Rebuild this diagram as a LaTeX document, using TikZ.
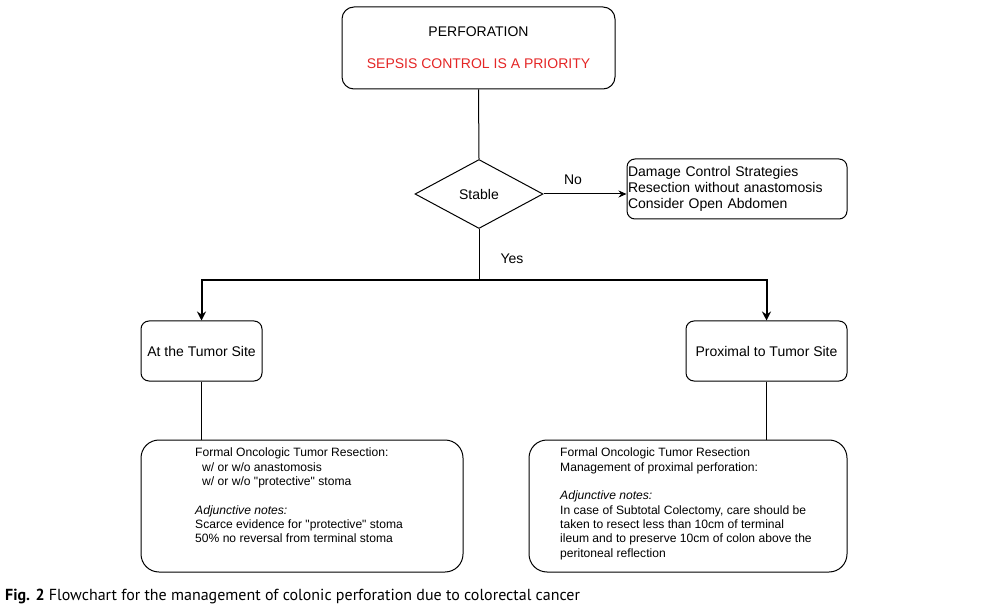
\documentclass[tikz,border=0pt]{standalone}
\usepackage{fontspec}
\setmainfont{Liberation Sans}
\newfontfamily\capfont{PT Sans}
\usetikzlibrary{shapes.geometric,arrows.meta}
\definecolor{sepsisred}{RGB}{228,38,38}
\newcommand\dq{{\XeTeXglyph\the\XeTeXcharglyph"22\relax}}
\tikzset{
  box/.style={draw, line width=1pt, rounded corners=8pt, inner sep=0pt},
  flow/.style={line width=1pt},
  branch/.style={line width=2pt},
  tip/.style={-{Stealth[length=9pt,width=9pt]}},
  big/.style={font=\fontsize{14}{16}\selectfont},
  small/.style={font=\fontsize{12.1}{14.3}\selectfont, align=left, inner sep=0pt, anchor=north west},
}

\begin{document}
\begin{tikzpicture}[x=1pt,y=-1pt]
\useasboundingbox (0,0) rectangle (990,609);
% top of the chart
\node[box, big, rounded corners=12pt, minimum width=273pt, minimum height=82pt, align=center] (perf) at (478.5,48) {PERFORATION\\[16pt]\textcolor{sepsisred}{SEPSIS CONTROL IS A PRIORITY}};
\node[draw, diamond, line width=1pt, big, inner sep=0pt, minimum width=128pt, minimum height=69pt] (stable) at (479,194) {Stable};
\node[box, big, text width=218pt, minimum height=60pt, align=left, inner sep=1pt] (dcs) at (737,189) {Damage Control Strategies\\Resection without anastomosis\\Consider Open Abdomen};
\coordinate (fork) at (479,280);
\node[big] (no) at (573,180) {No};
\node[big] (yes) at (512,259) {Yes};
% second row
\node[box, big, minimum width=121pt, minimum height=60pt] (tumor) at (201.5,351) {At the Tumor Site};
\node[box, big, minimum width=161pt, minimum height=60pt] (prox) at (766.5,351) {Proximal to Tumor Site};
% bottom boxes
\node[box, rounded corners=18pt, minimum width=322pt, minimum height=132pt] (resA) at (302,506) {};
\node[box, rounded corners=18pt, minimum width=318pt, minimum height=132pt] (resB) at (688,506) {};
\node[small] (resAtxt) at (195,448) {Formal Oncologic Tumor Resection:\\
\hspace*{7pt}w/ or w/o anastomosis\\
\hspace*{7pt}w/ or w/o \dq protective\dq{} stoma\\[14.3pt]
\textit{Adjunctive notes:}\\
Scarce evidence for \dq protective\dq{} stoma\\
50\% no reversal from terminal stoma};
\node[small] (resBtxt) at (560,448) {Formal Oncologic Tumor Resection\\
Management of proximal perforation:\\[14.3pt]
\textit{Adjunctive notes:}\\
In case of Subtotal Colectomy, care should be\\
taken to resect less than 10cm of terminal\\
ileum and to preserve 10cm of colon above the\\
peritoneal reflection};
% connectors
\draw[flow] (perf.south) -- (stable.north);
\draw[flow, -{Stealth[length=8pt,width=7pt]}] (stable.east) -- (stable.east -| dcs.west);
\draw[flow] (stable.south) -- (fork);
\draw[branch, tip] (fork) -| (tumor.north);
\draw[branch, tip] (fork) -| (prox.north);
\draw[flow] (tumor.south) -- (tumor.south |- resA.north);
\draw[flow] (prox.south) -- (prox.south |- resB.north);
% caption
\node[anchor=base west, inner sep=0pt] (cap) at (5,600) {\capfont\fontsize{16}{18}\selectfont\textbf{Fig. 2} Flowchart for the management of colonic perforation due to colorectal cancer};
\end{tikzpicture}
\end{document}
